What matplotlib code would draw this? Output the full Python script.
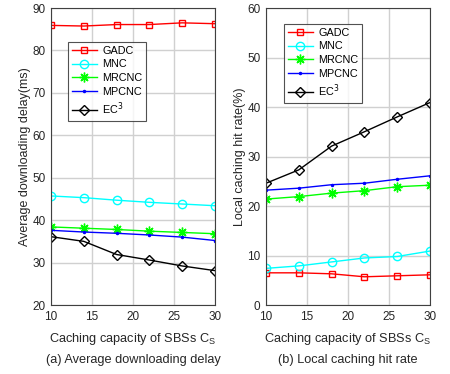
import matplotlib
matplotlib.use("Agg")
import matplotlib.pyplot as plt

plt.rcParams["font.family"] = ["Liberation Sans", "DejaVu Sans"]

capacity = [10, 14, 18, 22, 26, 30]

# (a) average downloading delay (ms)
delay_gadc = [85.9, 85.75, 86.1, 86.1, 86.5, 86.3]
delay_mnc = [45.7, 45.3, 44.7, 44.2, 43.8, 43.4]
delay_mrcnc = [38.4, 38.1, 37.8, 37.4, 37.1, 36.8]
delay_mpcnc = [37.6, 37.2, 36.9, 36.5, 36.0, 35.2]
delay_ec3 = [36.1, 35.0, 31.9, 30.6, 29.2, 28.1]

# (b) local caching hit rate (%)
hit_gadc = [6.5, 6.5, 6.3, 5.7, 5.9, 6.1]
hit_mnc = [7.4, 7.9, 8.7, 9.5, 9.8, 10.9]
hit_mrcnc = [21.4, 21.9, 22.6, 23.1, 23.9, 24.2]
hit_mpcnc = [23.2, 23.6, 24.3, 24.6, 25.4, 26.1]
hit_ec3 = [24.6, 27.3, 32.1, 35.0, 38.0, 40.9]

names = ["GADC", "MNC", "MRCNC", "MPCNC", "EC$^3$"]
colors = ["#ff0000", "#00ffff", "#00ff00", "#0000ff", "#000000"]
markers = ["s", "o", (8, 2, 0), ".", "D"]
msizes = [5, 6, 7, 3, 5]

fig = plt.figure(figsize=(4.5, 3.74), dpi=100)
W, H = 450, 374
ax1 = fig.add_axes([51 / W, 1 - 305 / H, 164 / W, 297 / H])
ax2 = fig.add_axes([266 / W, 1 - 305 / H, 164 / W, 297 / H])

panels = [
    (ax1, [delay_gadc, delay_mnc, delay_mrcnc, delay_mpcnc, delay_ec3],
     (20, 90), "Average downloading delay(ms)", "(a) Average downloading delay",
     (68, 42)),
    (ax2, [hit_gadc, hit_mnc, hit_mrcnc, hit_mpcnc, hit_ec3],
     (0, 60), "Local caching hit rate(%)", "(b) Local caching hit rate",
     (284, 24)),
]

for ax, series, ylim, ylab, cap, lpos in panels:
    for vals, name, c, m, ms in zip(series, names, colors, markers, msizes):
        hollow = m in ("s", "o", "D")
        ax.plot(capacity, vals, color=c, marker=m, markersize=ms, lw=1,
                markerfacecolor="none" if hollow else c,
                markeredgewidth=1, label=name)
    ax.set_xlim(10, 30)
    ax.set_ylim(*ylim)
    ax.set_xticks([10, 15, 20, 25, 30])
    ax.set_yticks(range(ylim[0], ylim[1] + 1, 10))
    ax.grid(True, color="#d0d0d0", lw=1)
    ax.set_axisbelow(True)
    for s in ax.spines.values():
        s.set_color("#404040")
    ax.tick_params(labelsize=8.5, colors="#262626", length=0, pad=4)
    ax.set_ylabel(ylab, fontsize=9, color="#262626", labelpad=1)
    ax.set_xlabel("Caching capacity of SBSs C$_\\mathregular{S}$", fontsize=9.2,
                  color="#262626", labelpad=6)
    ax.text(0.5, -0.165, cap, transform=ax.transAxes, ha="center", va="top",
            fontsize=9.2, color="#262626")
    x0, y0 = lpos
    leg = ax.legend(loc="upper left", fontsize=7.8, frameon=True, fancybox=False,
                    bbox_to_anchor=(x0 / W, 1 - y0 / H), bbox_transform=fig.transFigure,
                    borderaxespad=0, handlelength=2.3, labelspacing=0.34,
                    borderpad=0.35, handletextpad=0.5)
    leg.get_frame().set_edgecolor("#262626")
    leg.get_frame().set_linewidth(0.8)

fig.savefig("out.png", dpi=100)
